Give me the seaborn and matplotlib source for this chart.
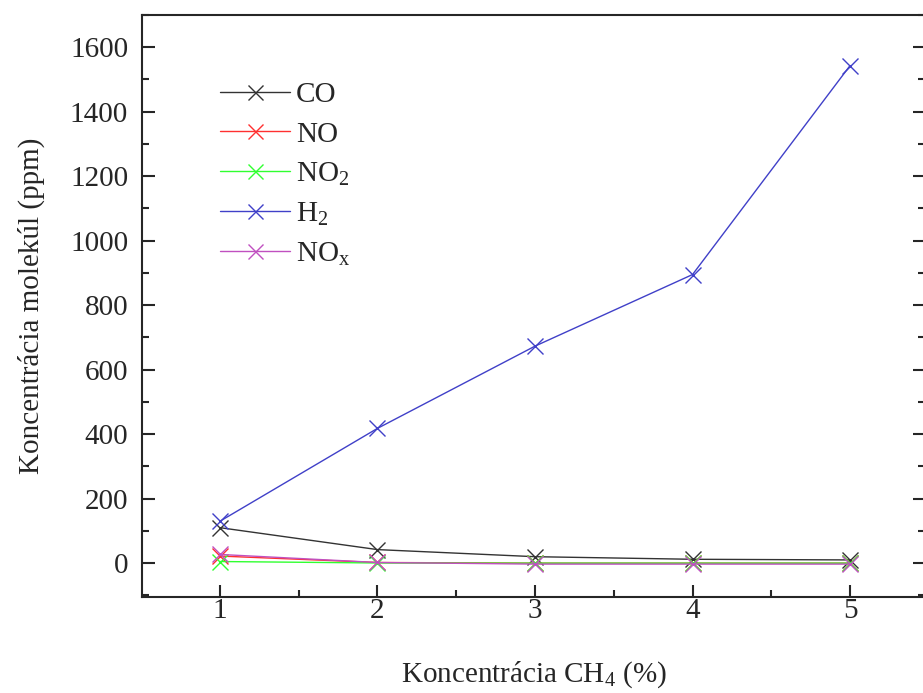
import numpy as np
import pandas as pd
import matplotlib
matplotlib.use("Agg")
import matplotlib.pyplot as plt
import seaborn as sns
from matplotlib.ticker import MultipleLocator

sns.set_style("ticks")
plt.rcParams['font.family'] = ['Liberation Serif', 'DejaVu Serif']
plt.rcParams['mathtext.fontset'] = 'custom'
plt.rcParams['mathtext.rm'] = 'Liberation Serif'
plt.rcParams['mathtext.it'] = 'Liberation Serif'

# data
ch4 = [1, 2, 3, 4, 5]
co = [110, 42, 20, 12, 10]
no = [22, 2, 0, 0, 0]
no2 = [5, 0.5, 0, 0, 0]
h2 = [130, 418, 673, 895, 1543]
nox = [27, 2, -3, -3, -3]

labels = ["CO", "NO", "NO$_2$", "H$_2$", "NO$_\\mathrm{x}$"]
colors = ["#333333", "#ff3030", "#30ff30", "#4040c8", "#c050c0"]
series = [co, no, no2, h2, nox]

fig = plt.figure(figsize=(9.23, 6.93), dpi=100)
ax = fig.add_axes([142 / 923, 1 - 597 / 693, (925 - 142) / 923, (597 - 15) / 693])

for vals, lab, col in zip(series, labels, colors):
    sns.lineplot(x=ch4, y=vals, ax=ax, color=col, label=lab, marker='x',
                 markersize=12, markeredgewidth=1.0, linewidth=1.0,
                 markeredgecolor=col)

ax.set_xlim(0.505, 5.476)
ax.set_ylim(-105, 1700)
ax.xaxis.set_major_locator(MultipleLocator(1))
ax.xaxis.set_minor_locator(MultipleLocator(0.5))
ax.yaxis.set_major_locator(MultipleLocator(200))
ax.yaxis.set_minor_locator(MultipleLocator(100))
ax.tick_params(which='both', direction='in', left=True, right=True,
               bottom=True, top=False, labelsize=21, width=1.5)
ax.tick_params(which='major', length=9)
ax.tick_params(which='minor', length=5)
ax.tick_params(axis='x', pad=1)
ax.tick_params(axis='y', pad=10)
for s in ax.spines.values():
    s.set_linewidth(1.5)

ax.set_xlabel("Koncentrácia CH$_4$ (%)", fontsize=21, labelpad=25)
ax.set_ylabel("Koncentrácia molekúl (ppm)", fontsize=21, labelpad=18)

ax.legend(loc='upper left', bbox_to_anchor=(0.1, 0.885), frameon=False,
          fontsize=21, handlelength=2.4, labelspacing=0.44, handletextpad=0.2,
          borderpad=0, borderaxespad=0, markerscale=0.9)

fig.savefig("out.png", dpi=100)
